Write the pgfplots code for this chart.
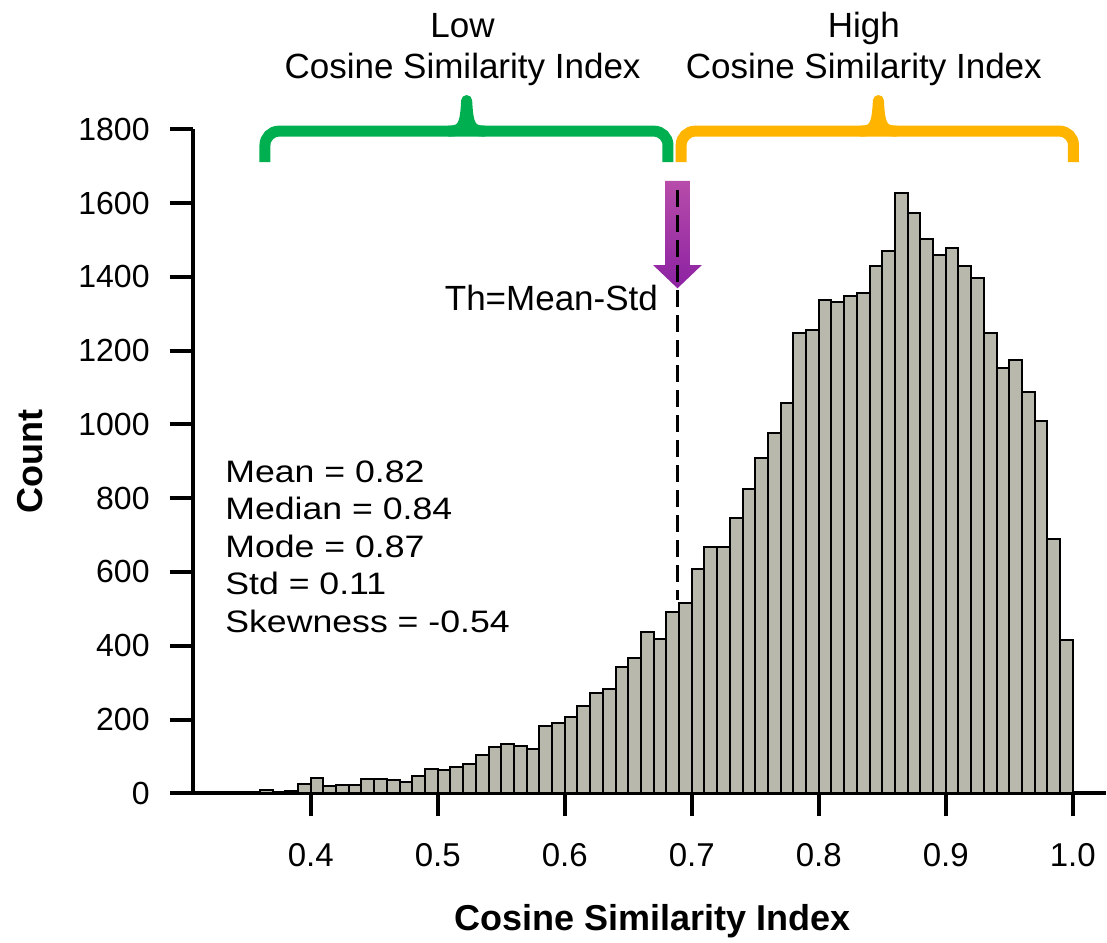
\documentclass[border=0pt]{standalone}
\usepackage{fontspec}
\setmainfont{Liberation Sans}
\newfontfamily\statfont{Liberation Sans}[FakeStretch=1.15]
\usepackage{pgfplots}
\usepackage{pgfplotstable}
\pgfplotsset{compat=1.18}
\definecolor{barfill}{RGB}{184,184,172}
\definecolor{lowgreen}{RGB}{0,176,80}
\definecolor{highgold}{RGB}{255,181,0}
\definecolor{arrtop}{RGB}{183,76,170}
\definecolor{arrmid}{RGB}{172,32,160}
\definecolor{arrbot}{RGB}{140,34,162}

\pgfplotstableread{
x y
0.36 8
0.37 0
0.38 5
0.39 25
0.40 41
0.41 20
0.42 23
0.43 23
0.44 39
0.45 39
0.46 37
0.47 31
0.48 48
0.49 66
0.50 64
0.51 72
0.52 80
0.53 104
0.54 126
0.55 133
0.56 127
0.57 120
0.58 183
0.59 190
0.60 206
0.61 238
0.62 272
0.63 282
0.64 343
0.65 366
0.66 438
0.67 419
0.68 492
0.69 517
0.70 607
0.71 667
0.72 667
0.73 745
0.74 824
0.75 908
0.76 978
0.77 1057
0.78 1247
0.79 1255
0.80 1337
0.81 1332
0.82 1347
0.83 1357
0.84 1430
0.85 1470
0.86 1628
0.87 1574
0.88 1502
0.89 1459
0.90 1479
0.91 1430
0.92 1397
0.93 1247
0.94 1152
0.95 1175
0.96 1089
0.97 1009
0.98 690
0.99 415
1.00 0
}\histdata

\begin{document}
\begin{tikzpicture}
\useasboundingbox (-96.35pt,-74.35pt) rectangle (457.15pt,396.65pt);
\begin{axis}[
  scale only axis,
  width=456.65pt, height=332pt,
  xmin=0.30709, xmax=1.02622,
  ymin=0, ymax=1800,
  clip=false,
  axis x line=bottom, axis y line=left,
  axis line style={-, line width=2pt, black},
  tick align=outside,
  major tick length=11.5pt,
  tick style={line width=2pt, black},
  xtick={0.4,0.5,0.6,0.7,0.8,0.9,1.0},
  ytick={0,200,400,600,800,1000,1200,1400,1600,1800},
  /pgf/number format/assume math mode=true,
  /pgf/number format/1000 sep={},
  xticklabel style={/pgf/number format/fixed, /pgf/number format/fixed zerofill, /pgf/number format/precision=1,
    font=\fontsize{16.5}{18}\selectfont, inner sep=0pt, anchor=base, yshift=-25.2pt},
  yticklabel style={font=\fontsize{16}{18}\selectfont, inner sep=0pt, anchor=east, xshift=-9.85pt},
  xlabel={Cosine Similarity Index},
  ylabel={Count},
  xlabel style={font=\bfseries\fontsize{18}{21}\selectfont, at={(axis description cs:0.503,-0.2066)}, anchor=base},
  ylabel style={font=\bfseries\fontsize{18}{21}\selectfont, at={(axis description cs:-0.165,0.5)}, anchor=base},
]
\addplot[ybar interval, fill=barfill, draw=black, line width=1pt] table[x=x, y=y] {\histdata};

% purple arrow
\shade[top color=arrtop, middle color=arrmid, bottom color=arrbot]
  (axis cs:0.679,1660) -- (axis cs:0.6986,1660) -- (axis cs:0.6986,1432) -- (axis cs:0.708,1432)
  -- (axis cs:0.6888,1369) -- (axis cs:0.6696,1432) -- (axis cs:0.679,1432) -- cycle;
% threshold line
\draw[black, line width=1.5pt, dash pattern=on 8.5pt off 4pt] (axis cs:0.689,1635) -- (axis cs:0.689,524);
\node[anchor=base east, inner sep=0pt, font=\fontsize{17.5}{20}\selectfont] at (axis cs:0.6737,1310) {Th=Mean-Std};

% brackets
\draw[lowgreen, line width=5.5pt, rounded corners=7pt]
  (axis cs:0.364,1711) -- (axis cs:0.364,1795) -- (axis cs:0.6813,1795) -- (axis cs:0.6813,1711);
\draw[lowgreen, line width=5.5pt, line cap=round, line join=round]
  (axis cs:0.5088,1795) .. controls (axis cs:0.5198,1795) and (axis cs:0.5218,1810) .. (axis cs:0.5228,1878)
  .. controls (axis cs:0.5238,1810) and (axis cs:0.5258,1795) .. (axis cs:0.5368,1795);
\draw[highgold, line width=5.5pt, rounded corners=7pt]
  (axis cs:0.6917,1711) -- (axis cs:0.6917,1795) -- (axis cs:1.0006,1795) -- (axis cs:1.0006,1711);
\draw[highgold, line width=5.5pt, line cap=round, line join=round]
  (axis cs:0.833,1795) .. controls (axis cs:0.844,1795) and (axis cs:0.846,1810) .. (axis cs:0.847,1878)
  .. controls (axis cs:0.848,1810) and (axis cs:0.850,1795) .. (axis cs:0.861,1795);

\node[anchor=base, inner sep=0pt, font=\fontsize{17.5}{20}\selectfont] at (axis cs:0.5196,2049) {Low};
\node[anchor=base, inner sep=0pt, font=\fontsize{17.5}{20}\selectfont] at (axis cs:0.5196,1937) {Cosine Similarity Index};
\node[anchor=base, inner sep=0pt, font=\fontsize{17.5}{20}\selectfont] at (axis cs:0.8355,2049) {High};
\node[anchor=base, inner sep=0pt, font=\fontsize{17.5}{20}\selectfont] at (axis cs:0.8355,1937) {Cosine Similarity Index};

% statistics
\node[anchor=north west, align=left, inner sep=0pt, font={\fontsize{15.5}{18.75}\statfont}]
  at (axis cs:0.3325,903.5) {Mean = 0.82\\Median = 0.84\\Mode = 0.87\\Std = 0.11\\Skewness = -0.54};
\end{axis}
\end{tikzpicture}
\end{document}
